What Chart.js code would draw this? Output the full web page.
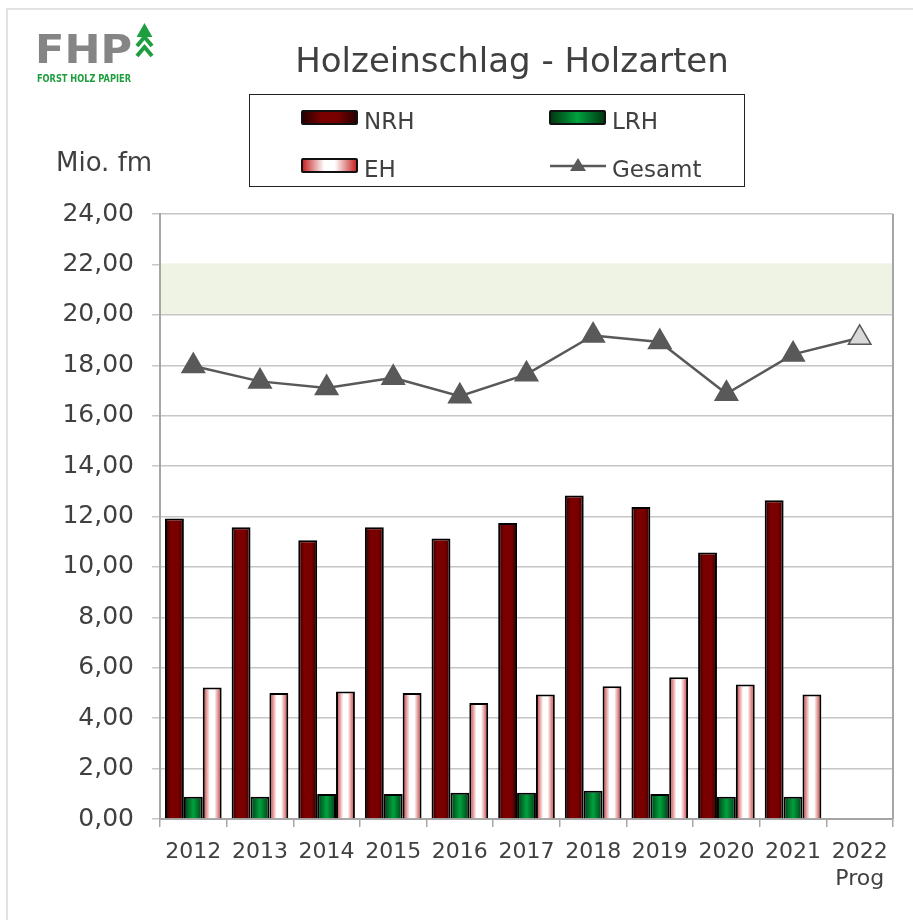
<!DOCTYPE html>
<html>
<head>
<meta charset="utf-8">
<script src="https://cdn.jsdelivr.net/npm/chart.js@4.4.0/dist/chart.umd.min.js"></script>
<style>
  body { margin: 0; background: #fff; }
  #wrap { position: relative; width: 913px; height: 920px; overflow: hidden;
          font-family: "DejaVu Sans", Verdana, sans-serif; color: #404040; }
  #frame { position: absolute; left: 6px; top: 8px; width: 960px; height: 960px;
           border-left: 2px solid #e2e2e2; border-top: 2px solid #e2e2e2; }
  #chart { position: absolute; left: 0; top: 0; }
  .txt { position: absolute; line-height: 1; white-space: nowrap; }
  #title { left: 0; width: 1024px; text-align: center; top: 43px; font-size: 34px; }
  #unit { left: 56px; top: 149px; font-size: 26px; }
  #legend { position: absolute; left: 249px; top: 94px; width: 494px; height: 91px;
            border: 1.5px solid #222; }
  .sw { position: absolute; width: 53px; height: 11px; border: 2px solid #111; border-radius: 2px; }
  .lt { position: absolute; font-size: 23px; line-height: 1; }
</style>
</head>
<body>
<div id="wrap">
  <div id="frame"></div>
  <canvas id="chart" width="913" height="920"></canvas>

  <svg class="logo" style="position:absolute;left:0;top:0" width="180" height="90">
    <text x="35" y="63" font-family="DejaVu Sans" font-weight="bold" font-size="39" fill="#858585"
          textLength="97" lengthAdjust="spacingAndGlyphs">FHP</text>
    <g fill="none" stroke="#1e9e3e" stroke-width="4">
      <polygon points="140,35 144.5,27 149,35" fill="#1e9e3e"/>
      <polyline points="137,46 144.5,37 152,46"/>
      <polyline points="137,56 144.5,47 152,56"/>
    </g>
    <text x="37" y="82" font-family="DejaVu Sans" font-weight="bold" font-size="10.5" fill="#1e9e3e"
          textLength="94" lengthAdjust="spacingAndGlyphs">FORST HOLZ PAPIER</text>
  </svg>

  <div id="title" class="txt">Holzeinschlag - Holzarten</div>
  <div id="unit" class="txt">Mio. fm</div>

  <div id="legend">
    <div class="sw" style="left:51px;top:15px;background:linear-gradient(90deg,#2a0000,#7a0000 35%,#7a0000 65%,#2a0000)"></div>
    <div class="lt" style="left:114px;top:15px">NRH</div>
    <div class="sw" style="left:299px;top:15px;background:linear-gradient(90deg,#003a12,#00a23f 50%,#003a12)"></div>
    <div class="lt" style="left:362px;top:15px">LRH</div>
    <div class="sw" style="left:51px;top:63px;background:linear-gradient(90deg,#c62828,#fff 40%,#fff 60%,#c62828)"></div>
    <div class="lt" style="left:114px;top:63px">EH</div>
    <svg style="position:absolute;left:298px;top:60px" width="60" height="20">
      <line x1="2" y1="11" x2="58" y2="11" stroke="#595959" stroke-width="2.5"/>
      <polygon points="30,3 38,16 22,16" fill="#595959"/>
    </svg>
    <div class="lt" style="left:362px;top:63px">Gesamt</div>
  </div>
</div>

<script>
// ── Data ─────────────────────────────────────────────
const years = ['2012', '2013', '2014', '2015', '2016', '2017', '2018', '2019', '2020', '2021', ['2022', 'Prog']];
const nrhValues = [11.92, 11.57, 11.06, 11.57, 11.13, 11.74, 12.83, 12.38, 10.57, 12.64, null];
const lrhValues = [0.88, 0.88, 0.99, 0.99, 1.04, 1.04, 1.12, 0.99, 0.88, 0.88, null];
const ehValues = [5.22, 5.00, 5.06, 5.00, 4.60, 4.94, 5.27, 5.62, 5.34, 4.94, null];
const gesamtValues = [17.97, 17.36, 17.10, 17.50, 16.77, 17.64, 19.18, 18.92, 16.87, 18.43, 19.09];
const yMin = 0, yMax = 24, yStep = 2;
const targetBand = [20, 22];

const FONT = '"DejaVu Sans", Verdana, sans-serif';
const TEXT = '#404040';
const AXIS = '#a6a6a6';

// horizontal "cylinder" shading per bar series
const barStops = {
    NRH: [[0, '#2a0000'], [0.3, '#7a0000'], [0.7, '#7a0000'], [1, '#2a0000']],
    LRH: [[0, '#003a12'], [0.5, '#00a23f'], [1, '#003a12']],
    EH:  [[0, '#c62828'], [0.38, '#ffffff'], [0.62, '#ffffff'], [1, '#c62828']]
};

// ── Plugins ──────────────────────────────────────────
const bandPlugin = {
    id: 'band',
    beforeDatasetsDraw(chart) {
        const { ctx, chartArea: a, scales: { y } } = chart;
        const top = y.getPixelForValue(targetBand[1]);
        const bot = y.getPixelForValue(targetBand[0]);
        ctx.save();
        ctx.fillStyle = '#eff3e3';
        ctx.fillRect(a.left + 1, top - 1, a.right - a.left - 2, bot - top);
        // right frame of plot area
        ctx.strokeStyle = AXIS;
        ctx.lineWidth = 2;
        ctx.beginPath();
        ctx.moveTo(a.right, a.top);
        ctx.lineTo(a.right, a.bottom);
        ctx.stroke();
        ctx.restore();
    }
};

const gradientPlugin = {
    id: 'barGradient',
    beforeDatasetsDraw(chart) {
        const ctx = chart.ctx;
        chart.data.datasets.forEach((ds, i) => {
            const stops = barStops[ds.label];
            if (!stops) return;
            chart.getDatasetMeta(i).data.forEach(bar => {
                if (!isFinite(bar.x) || !isFinite(bar.width)) return;
                const g = ctx.createLinearGradient(bar.x - bar.width / 2, 0, bar.x + bar.width / 2, 0);
                stops.forEach(s => g.addColorStop(s[0], s[1]));
                bar.options.backgroundColor = g;
            });
        });
    }
};

function barSet(label, data, flat) {
    return {
        type: 'bar', label, data, order: 1,
        backgroundColor: () => flat,   // scriptable -> own options object per bar
        borderColor: '#000', borderWidth: 2,
        categoryPercentage: 0.85, barPercentage: 1.0
    };
}

new Chart(document.getElementById('chart'), {
    data: {
        labels: years,
        datasets: [
            barSet('NRH', nrhValues, '#7a0000'),
            barSet('LRH', lrhValues, '#00a23f'),
            barSet('EH', ehValues, '#ffffff'),
            {
                type: 'line', label: 'Gesamt', data: gesamtValues, order: 0,
                borderColor: '#595959', borderWidth: 2.5, tension: 0,
                pointStyle: 'triangle', pointRadius: 13, pointHoverRadius: 13,
                pointBackgroundColor: c => c.dataIndex === years.length - 1 ? '#d9d9d9' : '#595959',
                pointBorderColor: '#595959', pointBorderWidth: 1.5
            }
        ]
    },
    options: {
        responsive: false,
        animation: false,
        layout: { padding: { top: 214, right: 20, bottom: 0, left: 0 } },
        plugins: { legend: { display: false }, title: { display: false }, tooltip: { enabled: false } },
        scales: {
            x: {
                offset: true,
                grid: { offset: true, drawOnChartArea: false, tickLength: 8, color: AXIS, lineWidth: 1.5 },
                border: { color: AXIS, width: 2 },
                ticks: { color: TEXT, font: { family: FONT, size: 22, lineHeight: 1.23 }, padding: 12,
                         maxRotation: 0, autoSkip: false },
                afterFit(s) { s.height = 101; }
            },
            y: {
                min: yMin, max: yMax,
                grid: { color: '#c6c6c6', lineWidth: 1.5, tickLength: 8 },
                border: { color: AXIS, width: 2 },
                ticks: { stepSize: yStep, color: TEXT, font: { family: FONT, size: 25 }, padding: 18,
                         callback: v => v.toFixed(2).replace('.', ',') },
                afterFit(s) { s.width = 160; }
            }
        }
    },
    plugins: [bandPlugin, gradientPlugin]
});
</script>
</body>
</html>
